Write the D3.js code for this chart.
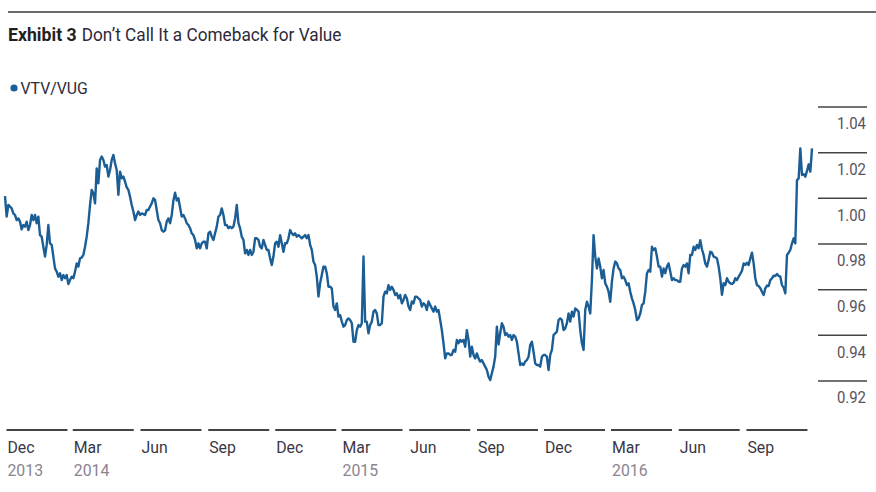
<!DOCTYPE html>
<html>
<head>
<meta charset="utf-8">
<script src="https://cdn.jsdelivr.net/npm/d3@7"></script>
<style>
  html, body { margin: 0; padding: 0; background: #fff; }
  svg { display: block; }
  text { font-family: "Roboto", "Liberation Sans", sans-serif; }
</style>
</head>
<body>
<svg id="chart" width="876" height="492"></svg>
<script>
// ---------- data ----------
const titleBold = "Exhibit 3";
const titleRest = "Don\u2019t Call It a Comeback for Value";
const seriesName = "VTV/VUG";
const firstDate = "2013-11-29";
const lastDate = "2016-11-29";
const yTicks = [0.92, 0.94, 0.96, 0.98, 1.00, 1.02, 1.04];
const xTickDates = ["2013-12-01","2014-03-01","2014-06-01","2014-09-01","2014-12-01","2015-03-01",
  "2015-06-01","2015-09-01","2015-12-01","2016-03-01","2016-06-01","2016-09-01"];
const xTickMonths = ["Dec","Mar","Jun","Sep","Dec","Mar","Jun","Sep","Dec","Mar","Jun","Sep"];
const xTickYears = ["2013","2014","","","","2015","","","","2016","",""];
// VTV/VUG ratio, evenly spaced observations from firstDate to lastDate
const ratio = [
1.0010,0.9920,0.9971,0.9964,0.9956,0.9934,0.9927,0.9905,0.9912,0.9898,
0.9864,0.9883,0.9876,0.9898,0.9861,0.9883,0.9927,0.9905,0.9927,0.9891,
0.9920,0.9839,0.9832,0.9788,0.9745,0.9796,0.9883,0.9803,0.9796,0.9745,
0.9693,0.9679,0.9657,0.9672,0.9642,0.9664,0.9650,0.9664,0.9625,0.9642,
0.9657,0.9650,0.9679,0.9715,0.9701,0.9737,0.9741,0.9752,0.9788,0.9832,
0.9891,0.9971,1.0037,1.0022,0.9978,1.0131,1.0066,1.0168,1.0183,1.0168,
1.0139,1.0146,1.0095,1.0124,1.0168,1.0190,1.0153,1.0124,1.0015,1.0117,
1.0088,1.0095,1.0073,1.0048,1.0037,1.0007,0.9971,0.9942,0.9905,0.9927,
0.9942,0.9927,0.9934,0.9931,0.9927,0.9949,0.9949,0.9964,0.9978,1.0000,
0.9993,0.9949,0.9905,0.9891,0.9861,0.9854,0.9860,0.9898,0.9912,0.9891,
0.9927,0.9990,1.0025,0.9990,1.0000,0.9960,0.9920,0.9927,0.9912,0.9891,
0.9883,0.9869,0.9847,0.9839,0.9818,0.9781,0.9803,0.9781,0.9803,0.9810,
0.9810,0.9781,0.9847,0.9854,0.9832,0.9818,0.9847,0.9876,0.9920,0.9927,
0.9956,0.9927,0.9883,0.9883,0.9869,0.9876,0.9869,0.9876,0.9912,0.9971,
0.9891,0.9869,0.9832,0.9818,0.9759,0.9774,0.9752,0.9774,0.9752,0.9766,
0.9825,0.9825,0.9818,0.9788,0.9781,0.9818,0.9796,0.9774,0.9774,0.9737,
0.9708,0.9745,0.9803,0.9810,0.9788,0.9839,0.9803,0.9766,0.9803,0.9803,
0.9825,0.9861,0.9847,0.9839,0.9847,0.9832,0.9839,0.9832,0.9825,0.9832,
0.9839,0.9825,0.9839,0.9796,0.9774,0.9723,0.9708,0.9657,0.9570,0.9628,
0.9664,0.9701,0.9701,0.9672,0.9613,0.9613,0.9606,0.9526,0.9511,0.9540,
0.9482,0.9489,0.9460,0.9438,0.9445,0.9467,0.9474,0.9467,0.9453,0.9372,
0.9372,0.9423,0.9445,0.9438,0.9453,0.9745,0.9460,0.9460,0.9409,0.9445,
0.9460,0.9504,0.9511,0.9496,0.9445,0.9445,0.9453,0.9569,0.9591,0.9584,
0.9620,0.9599,0.9613,0.9599,0.9577,0.9584,0.9562,0.9577,0.9540,0.9555,
0.9577,0.9562,0.9526,0.9511,0.9548,0.9540,0.9569,0.9569,0.9562,0.9555,
0.9526,0.9540,0.9533,0.9511,0.9548,0.9533,0.9518,0.9504,0.9526,0.9504,
0.9511,0.9467,0.9423,0.9365,0.9299,0.9321,0.9321,0.9314,0.9314,0.9336,
0.9328,0.9380,0.9365,0.9380,0.9372,0.9380,0.9350,0.9423,0.9380,0.9307,
0.9350,0.9314,0.9299,0.9321,0.9299,0.9285,0.9292,0.9277,0.9263,0.9248,
0.9219,0.9204,0.9234,0.9263,0.9307,0.9438,0.9360,0.9409,0.9453,0.9438,
0.9401,0.9409,0.9394,0.9401,0.9380,0.9401,0.9394,0.9372,0.9321,0.9270,
0.9277,0.9270,0.9285,0.9292,0.9306,0.9358,0.9372,0.9328,0.9277,0.9270,
0.9270,0.9263,0.9306,0.9314,0.9314,0.9306,0.9248,0.9314,0.9336,0.9401,
0.9409,0.9416,0.9467,0.9474,0.9467,0.9423,0.9430,0.9453,0.9496,0.9460,
0.9504,0.9482,0.9518,0.9511,0.9504,0.9423,0.9365,0.9336,0.9511,0.9547,
0.9526,0.9496,0.9642,0.9839,0.9745,0.9693,0.9737,0.9701,0.9650,0.9686,
0.9628,0.9613,0.9591,0.9547,0.9635,0.9693,0.9723,0.9715,0.9693,0.9686,
0.9650,0.9657,0.9642,0.9620,0.9628,0.9591,0.9562,0.9540,0.9511,0.9467,
0.9474,0.9496,0.9533,0.9540,0.9591,0.9671,0.9686,0.9679,0.9788,0.9774,
0.9781,0.9745,0.9701,0.9701,0.9657,0.9693,0.9672,0.9701,0.9715,0.9679,
0.9642,0.9650,0.9642,0.9642,0.9635,0.9635,0.9693,0.9708,0.9701,0.9715,
0.9672,0.9752,0.9752,0.9788,0.9774,0.9796,0.9781,0.9817,0.9777,0.9752,
0.9715,0.9701,0.9730,0.9766,0.9762,0.9745,0.9742,0.9737,0.9701,0.9650,
0.9577,0.9628,0.9620,0.9650,0.9635,0.9628,0.9625,0.9630,0.9650,0.9642,
0.9657,0.9669,0.9683,0.9715,0.9708,0.9718,0.9708,0.9737,0.9762,0.9715,
0.9650,0.9620,0.9616,0.9606,0.9591,0.9577,0.9606,0.9618,0.9616,0.9642,
0.9650,0.9661,0.9660,0.9669,0.9660,0.9657,0.9620,0.9609,0.9584,0.9752,
0.9762,0.9774,0.9803,0.9825,0.9803,1.0080,1.0087,1.0219,1.0102,1.0106,
1.0095,1.0120,1.0149,1.0117,1.0219
];

// ---------- build ----------
const parse = d3.timeParse("%Y-%m-%d");
const t0 = parse(firstDate), t1 = parse(lastDate);
const idx = d3.scaleLinear().domain([0, ratio.length - 1]).range([t0.getTime(), t1.getTime()]);
const data = ratio.map((v, i) => ({ date: new Date(idx(i)), value: v }));

const svg = d3.select("#chart");
const lineColor = "#1b5e95";

const x = d3.scaleTime().domain([t0, t1]).range([5, 812]);
const y = d3.scaleLinear().domain([0.92, 1.04]).range([381, 107]);

// condensed text helper (horizontal compression to mimic a condensed face)
const probe = svg.append("text").attr("font-size", 18.5).text(titleRest);
const kx = Math.min(1, 260 / probe.node().getComputedTextLength());
probe.remove();
function ctext(parent, xp, yp, str, size, fill, opts = {}) {
  const t = parent.append("text")
    .attr("transform", `translate(${xp},${yp}) scale(${kx},1)`)
    .attr("font-size", size).attr("fill", fill).text(str);
  if (opts.anchor) t.attr("text-anchor", opts.anchor);
  if (opts.weight) t.attr("font-weight", opts.weight);
  return t;
}

// top rule
svg.append("line").attr("x1", 8).attr("x2", 876).attr("y1", 12).attr("y2", 12)
  .attr("stroke", "#3a3a3a").attr("stroke-width", 1.5);

// title
const tb = ctext(svg, 8, 41, titleBold, 19, "#231f20", { weight: "bold" });
const bw = tb.node().getComputedTextLength() * kx;
ctext(svg, 8 + bw + 5, 41, titleRest, 18.5, "#2e2a3a");

// legend
svg.append("circle").attr("cx", 14).attr("cy", 88).attr("r", 3.6).attr("fill", lineColor);
ctext(svg, 20.5, 94, seriesName, 17, "#2e2a3a");

// y axis (right)
const yg = svg.append("g");
yTicks.forEach(v => {
  yg.append("line").attr("x1", 818).attr("x2", 867).attr("y1", y(v)).attr("y2", y(v))
    .attr("stroke", "#444").attr("stroke-width", 1.5);
  ctext(yg, 866, y(v) + 22.2, d3.format(".2f")(v), 16, "#5a5060", { anchor: "end" });
});

// x axis (bottom)
const xg = svg.append("g");
xTickDates.forEach((ds, i) => {
  const xp = x(parse(ds));
  xg.append("line").attr("x1", xp).attr("x2", xp + 61).attr("y1", 430).attr("y2", 430)
    .attr("stroke", "#444").attr("stroke-width", 1.8);
  ctext(xg, xp + 1, 453, xTickMonths[i], 17, "#3b3645");
  if (xTickYears[i]) ctext(xg, xp + 1, 475.5, xTickYears[i], 17, "#8a8490");
});

// line
const line = d3.line().x(d => x(d.date)).y(d => y(d.value));
svg.append("path").datum(data).attr("d", line).attr("fill", "none")
  .attr("stroke", lineColor).attr("stroke-width", 2.4).attr("stroke-linejoin", "round");
</script>
</body>
</html>
